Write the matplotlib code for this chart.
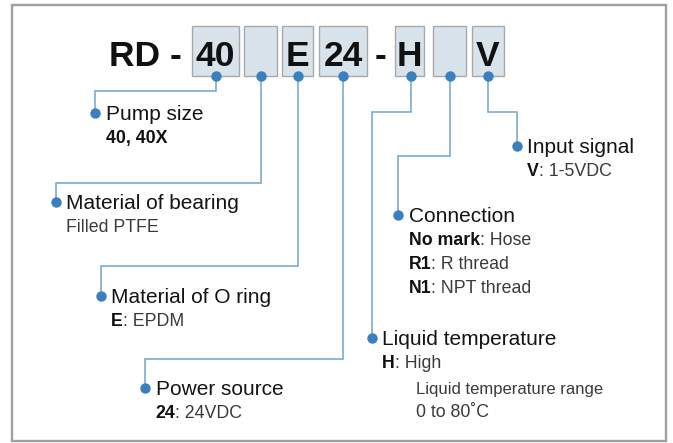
import matplotlib
matplotlib.use("Agg")
import matplotlib.pyplot as plt
from matplotlib.patches import Rectangle

# ---- content ----
prefix = "RD -"
codes = ["40", "", "E", "24", "H", "", "V"]
titles = ["Pump size", "Material of bearing", "Material of O ring", "Power source",
          "Liquid temperature", "Connection", "Input signal"]
# each description line: (bold part, regular part)
descriptions = [
    [("40, 40X", "")],
    [("", "Filled PTFE")],
    [("E", ": EPDM")],
    [("24", ": 24VDC")],
    [("H", ": High")],
    [("No mark", ": Hose"), ("R1", ": R thread"), ("N1", ": NPT thread")],
    [("V", ": 1-5VDC")],
]
temp_range_label = "Liquid temperature range"
temp_range_value = "0 to 80˚C"

# ---- layout (pixel coordinates) ----
W, H = 673, 443
box_x = [(192.3, 239.0), (244.0, 276.7), (282.3, 313.3), (319.3, 366.7),
         (395.0, 424.3), (433.3, 466.0), (471.7, 504.3)]
box_top, box_bot = 26.0, 76.0
dot_x = [216.0, 260.7, 298.3, 343.0, 411.0, 449.7, 487.7]
# (bend y, end x, end y)
bends = [(90.5, 95.0, 113.3), (182.7, 55.7, 201.7), (266.0, 100.7, 296.0),
         (359.0, 145.0, 388.3), (112.3, 371.7, 338.0), (155.7, 398.3, 215.0),
         (111.7, 516.7, 146.0)]

LINE_C = "#6ea3d2"
DOT_C = "#3b7fbd"
BOX_FC = "#d9e3ec"
BOX_EC = "#a9a9a9"
FONT = "Liberation Sans"

fig = plt.figure(figsize=(W / 100, H / 100), dpi=100)
ax = fig.add_axes([0, 0, 1, 1])
ax.set_xlim(0, W)
ax.set_ylim(H, 0)
ax.axis("off")

# frame
ax.add_patch(Rectangle((11.5, 5.0), 666.0 - 11.5, 440.5 - 5.0, fill=False,
                       ec="#a0a0a0", lw=1.7, zorder=1))

# model code
ax.text(109.3, 66, prefix, fontsize=25.5, fontweight="bold", family=FONT,
        ha="left", va="baseline", color="#111111")
ax.text(380.5, 66, "-", fontsize=25.5, fontweight="bold", family=FONT,
        ha="center", va="baseline", color="#111111")
for (x0, x1), c in zip(box_x, codes):
    ax.add_patch(Rectangle((x0, box_top), x1 - x0, box_bot - box_top,
                           fc=BOX_FC, ec=BOX_EC, lw=1.0, zorder=2))
    if c:
        ax.text((x0 + x1) / 2, 66, c, fontsize=25.5, fontweight="bold", family=FONT,
                ha="center", va="baseline", color="#111111", zorder=3)

fig.canvas.draw()
renderer = fig.canvas.get_renderer()


def text_width(t):
    bb = t.get_window_extent(renderer=renderer)
    return bb.width  # 1 px == 1 data unit


for i in range(len(codes)):
    by, ex, ey = bends[i]
    sx = dot_x[i]
    ax.plot([sx, sx, ex, ex], [box_bot, by, by, ey], color=LINE_C, lw=1.1,
            solid_joinstyle="miter", zorder=3)
    ax.plot([sx, ex], [box_bot, ey], "o", ms=7.5, color=DOT_C, mec="none", zorder=4)
    tx = ex + 10.5
    base = ey + 7.0
    ax.text(tx, base, titles[i], fontsize=15, family=FONT, ha="left",
            va="baseline", color="#141414")
    y = base + 23.0
    for bold, reg in descriptions[i]:
        x = tx
        if bold:
            t = ax.text(x, y, bold, fontsize=12.8, fontweight="bold", family=FONT,
                        ha="left", va="baseline", color="#111111")
            x += text_width(t)
        if reg:
            ax.text(x, y, reg, fontsize=12.8, family=FONT, ha="left",
                    va="baseline", color="#3a3a3a")
        y += 24.0
    if titles[i] == "Liquid temperature":
        ax.text(tx + 34.0, base + 49.0, temp_range_label, fontsize=12, family=FONT,
                ha="left", va="baseline", color="#3a3a3a")
        ax.text(tx + 34.0, base + 72.4, temp_range_value, fontsize=12.8, family=FONT,
                ha="left", va="baseline", color="#3a3a3a")

fig.savefig("out.png", dpi=100)
